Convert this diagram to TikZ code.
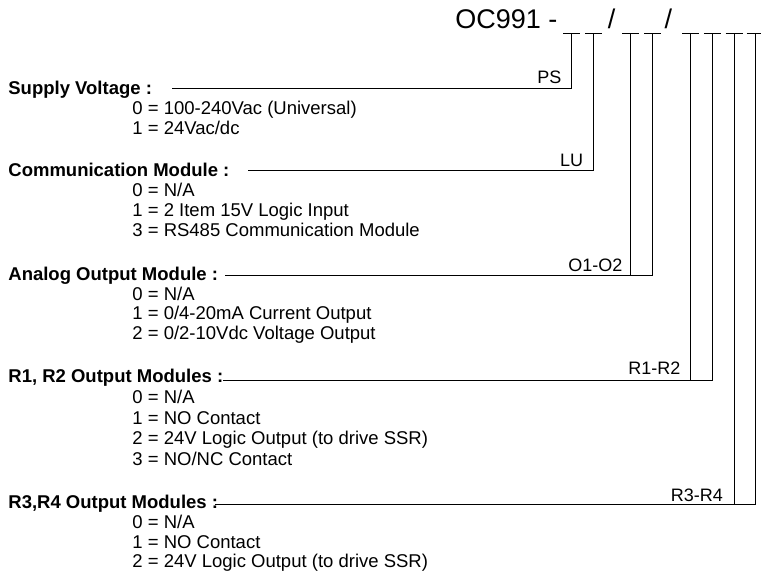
\documentclass[tikz,border=0pt]{standalone}
\usepackage{fontspec}
\setmainfont{Liberation Sans}
\usepackage{tikz}

\begin{document}
\begin{tikzpicture}[x=1pt,y=-1pt,line width=0.8pt,
  head/.style={font=\bfseries\fontsize{18.5}{20}\selectfont,anchor=base west,inner sep=0pt},
  item/.style={font=\fontsize{18.5}{20}\selectfont,anchor=base west,inner sep=0pt},
  tag/.style={font=\fontsize{18}{20}\selectfont,anchor=base east,inner sep=0pt},
  big/.style={font=\fontsize{27}{30}\selectfont,inner sep=0pt}]
\useasboundingbox (0,0) rectangle (761,576);
% order code
\node[big,anchor=base west] (code) at (455,28) {OC991 -};
\node[big,anchor=base] (sla) at (611.7,28) {/};
\node[big,anchor=base] (slb) at (668.3,28) {/};
\coordinate (s1) at (571.7,33);
\coordinate (s2) at (593.5,33);
\coordinate (s3) at (630.7,33);
\coordinate (s4) at (652.5,33);
\coordinate (s5) at (690.7,33);
\coordinate (s6) at (712.3,33);
\coordinate (s7) at (734.2,33);
\coordinate (s8) at (755.2,33);
\foreach \s in {s1,s2,s3,s4,s5,s6,s7,s8}
  \draw ([xshift=-8.5pt]\s) -- ([xshift=8.5pt]\s);

% supply voltage
\node[head] (sv) at (8,94.3) {Supply Voltage :};
\node[item] (sv0) at (132,114.3) {0 = 100-240Vac (Universal)};
\node[item] (sv1) at (132,134.3) {1 = 24Vac/dc};
\coordinate (svl) at (172,88);
\draw (svl) -| (s1);
\node[tag] (ps) at ([xshift=-10pt,yshift=4.5pt]s1 |- svl) {PS};

% communication module
\node[head] (cm) at (8,176.7) {Communication Module :};
\node[item] (cm0) at (132,196.7) {0 = N/A};
\node[item] (cm1) at (132,216.3) {1 = 2 Item 15V Logic Input};
\node[item] (cm3) at (132,236) {3 = RS485 Communication Module};
\coordinate (cml) at (248,170.7);
\draw (cml) -| (s2);
\node[tag] (lu) at ([xshift=-10pt,yshift=4pt]s2 |- cml) {LU};

% analog output
\node[head] (ao) at (8,280) {Analog Output Module :};
\node[item] (ao0) at (132,300) {0 = N/A};
\node[item] (ao1) at (132,319.7) {1 = 0/4-20mA Current Output};
\node[item] (ao2) at (132,339.3) {2 = 0/2-10Vdc Voltage Output};
\coordinate (aol) at (225,275.7);
\draw (aol) -| (s4);
\draw (s3) -- (s3 |- aol);
\node[tag] (oo) at ([xshift=-8pt,yshift=4pt]s3 |- aol) {O1-O2};

% R1, R2 outputs
\node[head] (ra) at (8,382.7) {R1, R2 Output Modules :};
\node[item] (ra0) at (132,403.5) {0 = N/A};
\node[item] (ra1) at (132,424) {1 = NO Contact};
\node[item] (ra2) at (132,444.5) {2 = 24V Logic Output (to drive SSR)};
\node[item] (ra3) at (132,465) {3 = NO/NC Contact};
\coordinate (ral) at (223,380);
\draw (ral) -| (s6);
\draw (s5) -- (s5 |- ral);
\node[tag] (rr) at ([xshift=-10pt,yshift=6pt]s5 |- ral) {R1-R2};

% R3, R4 outputs
\node[head] (rb) at (8,508.3) {R3,R4 Output Modules :};
\node[item] (rb0) at (132,528.3) {0 = N/A};
\node[item] (rb1) at (132,548) {1 = NO Contact};
\node[item] (rb2) at (132,567.6) {2 = 24V Logic Output (to drive SSR)};
\coordinate (rbl) at (215,504);
\draw (rbl) -| (s8);
\draw (s7) -- (s7 |- rbl);
\node[tag] (rs) at ([xshift=-11pt,yshift=2.5pt]s7 |- rbl) {R3-R4};
\end{tikzpicture}
\end{document}
